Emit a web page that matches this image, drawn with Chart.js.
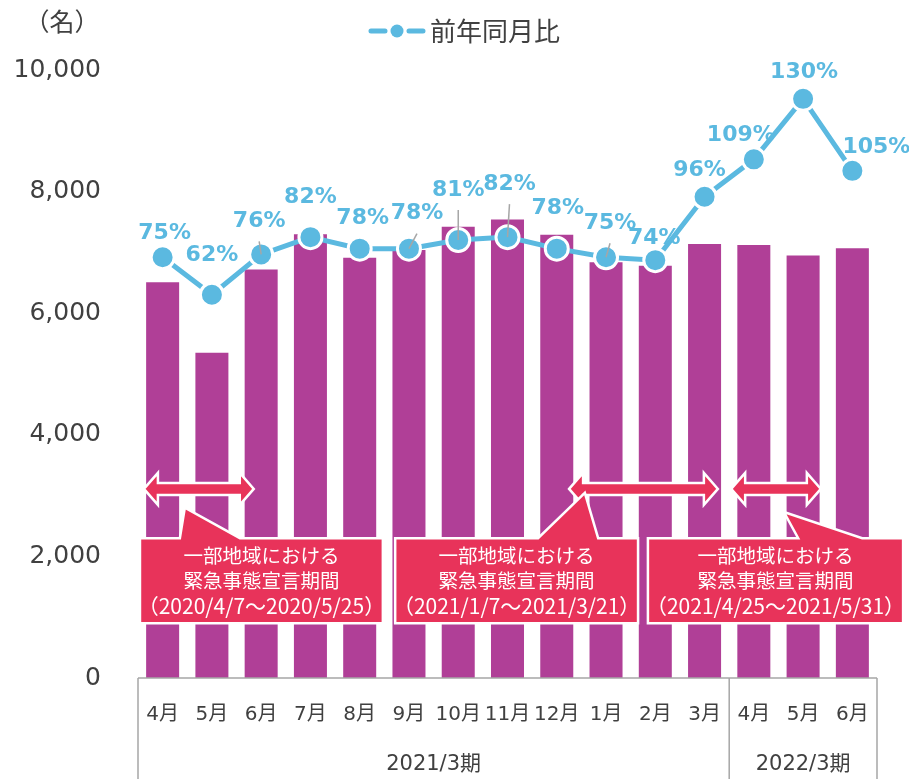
<!DOCTYPE html>
<html lang="ja">
<head>
<meta charset="utf-8">
<title>前年同月比</title>
<script src="https://cdn.jsdelivr.net/npm/chart.js@4.4.1/dist/chart.umd.min.js"></script>
<style>
  html, body { margin: 0; padding: 0; background: #fff; }
  #wrap { width: 909px; height: 779px; }
</style>
</head>
<body>
<div id="wrap"><canvas id="myChartCanvas1" width="909" height="779"></canvas></div>
<script>
// dados
const months = ['4月', '5月', '6月', '7月', '8月', '9月', '10月', '11月', '12月', '1月', '2月', '3月', '4月', '5月', '6月'];
const headcount = [6510, 5350, 6720, 7300, 6910, 7040, 7420, 7540, 7290, 6840, 6780, 7140, 7120, 6950, 7070];
const yoyRatio = [75, 62, 76, 82, 78, 78, 81, 82, 78, 75, 74, 96, 109, 130, 105];
const periodLabels = ['2021/3期', '2022/3期'];
const periodLengths = [12, 3];
const emergencyTexts = [
    ['一部地域における', '緊急事態宣言期間', '（2020/4/7～2020/5/25）'],
    ['一部地域における', '緊急事態宣言期間', '（2021/1/7～2021/3/21）'],
    ['一部地域における', '緊急事態宣言期間', '（2021/4/25～2021/5/31）']
];

const BLUE = '#5BB9E0';
const RED = '#E8335A';
const PURPLE = '#B03F97';
const TEXT = '#404040';
const CJK = '"Noto Sans CJK JP", sans-serif';
const LATIN = '"DejaVu Sans", "Noto Sans CJK JP", sans-serif';

// posição dos rótulos de % (deslocamento em px a partir do marcador) e linhas de chamada
const labelNudges = [[2, -24], [0, -39], [-2, -33], [0, -40], [3, -30], [8, -35], [0, -50], [2, -53],
    [1, -40], [4, -34], [-1, -22], [-5, -27], [-13, -24], [1, -27], [24, -24]];
const leaderLines = [2, 5, 6, 7, 9];

// anotações em unidades do gráfico (índice de categoria, valor do eixo y)
const arrows = [
    { from: -0.38, to: 1.85, y: 3110 },
    { from: 8.25, to: 11.27, y: 3110 },
    { from: 11.54, to: 13.36, y: 3110 }
];
const callouts = [
    { from: -0.46, to: 4.47, top: 2300, bottom: 900, base: [0.35, 1.57], tip: [0.45, 2800] },
    { from: 4.72, to: 9.65, top: 2300, bottom: 900, base: [7.62, 8.84], tip: [8.57, 3045] },
    { from: 9.85, to: 15.03, top: 2300, bottom: 900, base: [12.9, 14.2], tip: [12.61, 2730] }
];

function idxToX(x, idx) {
    const step = x.getPixelForValue(1) - x.getPixelForValue(0);
    return x.getPixelForValue(0) + idx * step;
}

function drawArrow(ctx, x1, x2, yc) {
    const sh = 6, hh = 16, hl = 14;
    ctx.beginPath();
    ctx.moveTo(x1, yc);
    ctx.lineTo(x1 + hl, yc - hh);
    ctx.lineTo(x1 + hl, yc - sh);
    ctx.lineTo(x2 - hl, yc - sh);
    ctx.lineTo(x2 - hl, yc - hh);
    ctx.lineTo(x2, yc);
    ctx.lineTo(x2 - hl, yc + hh);
    ctx.lineTo(x2 - hl, yc + sh);
    ctx.lineTo(x1 + hl, yc + sh);
    ctx.lineTo(x1 + hl, yc + hh);
    ctx.closePath();
    ctx.fillStyle = RED;
    ctx.fill();
    ctx.strokeStyle = '#fff';
    ctx.lineWidth = 2.5;
    ctx.stroke();
}

function drawCallout(ctx, c, lines, x, y) {
    const l = idxToX(x, c.from), r = idxToX(x, c.to);
    const t = y.getPixelForValue(c.top), b = y.getPixelForValue(c.bottom);
    const b1 = idxToX(x, c.base[0]), b2 = idxToX(x, c.base[1]);
    const ax = idxToX(x, c.tip[0]), ay = y.getPixelForValue(c.tip[1]);
    ctx.beginPath();
    ctx.moveTo(l, t);
    ctx.lineTo(b1, t);
    ctx.lineTo(ax, ay);
    ctx.lineTo(b2, t);
    ctx.lineTo(r, t);
    ctx.lineTo(r, b);
    ctx.lineTo(l, b);
    ctx.closePath();
    ctx.fillStyle = RED;
    ctx.fill();
    ctx.strokeStyle = '#fff';
    ctx.lineWidth = 2.5;
    ctx.stroke();

    ctx.fillStyle = '#fff';
    ctx.textAlign = 'center';
    ctx.textBaseline = 'middle';
    lines.forEach((txt, i) => {
        // a linha das datas é um pouco maior no original
        ctx.font = (i === 2 ? '21px ' : '19.5px ') + CJK;
        ctx.fillText(txt, (l + r) / 2, t + 17 + i * 25.5);
    });
}

const extras = {
    id: 'extras',
    afterDatasetsDraw(chart) {
        const { ctx, scales } = chart;
        const x = scales.x, y = scales.y;
        ctx.save();

        // setas e balões de estado de emergência
        arrows.forEach(a => drawArrow(ctx, idxToX(x, a.from), idxToX(x, a.to), y.getPixelForValue(a.y)));
        callouts.forEach((c, i) => drawCallout(ctx, c, emergencyTexts[i], x, y));

        // rótulos de porcentagem
        const meta = chart.getDatasetMeta(0);
        ctx.font = 'bold 22px ' + LATIN;
        ctx.textAlign = 'center';
        ctx.textBaseline = 'middle';
        meta.data.forEach((pt, i) => {
            const lx = pt.x + labelNudges[i][0];
            const ly = pt.y + labelNudges[i][1];
            if (leaderLines.includes(i)) {
                ctx.strokeStyle = '#A6A6A6';
                ctx.lineWidth = 1.5;
                ctx.beginPath();
                ctx.moveTo(lx, ly + 20);
                ctx.lineTo(pt.x, pt.y);
                ctx.stroke();
            }
            ctx.fillStyle = BLUE;
            ctx.fillText(yoyRatio[i] + '%', lx, ly);
        });
        ctx.restore();
    },
    afterDraw(chart) {
        const { ctx, chartArea, scales } = chart;
        const x = scales.x;
        ctx.save();

        // caixa das categorias (meses / períodos)
        ctx.strokeStyle = '#A6A6A6';
        ctx.lineWidth = 1.5;
        ctx.beginPath();
        ctx.moveTo(chartArea.left, chartArea.bottom);
        ctx.lineTo(chartArea.right, chartArea.bottom);
        const edges = [chartArea.left];
        let acc = 0;
        periodLengths.forEach(n => { acc += n; edges.push(idxToX(x, acc - 0.5)); });
        edges.forEach(e => { ctx.moveTo(e, chartArea.bottom); ctx.lineTo(e, chart.height); });
        ctx.stroke();

        ctx.fillStyle = TEXT;
        ctx.font = '21px ' + LATIN;
        ctx.textAlign = 'center';
        ctx.textBaseline = 'middle';
        periodLabels.forEach((lbl, i) => ctx.fillText(lbl, (edges[i] + edges[i + 1]) / 2, 765));

        // unidade do eixo
        ctx.font = '25px ' + CJK;
        ctx.fillText('（名）', 62, 21);

        // legenda
        const ly = 31;
        ctx.strokeStyle = BLUE;
        ctx.lineWidth = 5;
        ctx.lineCap = 'round';
        ctx.beginPath();
        ctx.moveTo(371, ly); ctx.lineTo(385, ly);
        ctx.moveTo(409, ly); ctx.lineTo(423, ly);
        ctx.stroke();
        ctx.fillStyle = BLUE;
        ctx.beginPath();
        ctx.arc(397, ly, 6.5, 0, Math.PI * 2);
        ctx.fill();
        ctx.fillStyle = TEXT;
        ctx.textAlign = 'left';
        ctx.font = '26px ' + CJK;
        ctx.fillText(chart.data.datasets[0].label, 430, ly);
        ctx.restore();
    }
};

const config = {
    type: 'bar',
    data: {
        labels: months,
        datasets: [{
            type: 'line',
            label: '前年同月比',
            data: yoyRatio,
            yAxisID: 'y2',
            borderColor: BLUE,
            borderWidth: 5,
            pointRadius: 11.5,
            pointBackgroundColor: BLUE,
            pointBorderColor: '#fff',
            pointBorderWidth: 3,
            tension: 0
        }, {
            type: 'bar',
            label: '人数',
            data: headcount,
            yAxisID: 'y',
            backgroundColor: PURPLE,
            barPercentage: 1,
            categoryPercentage: 0.67
        }]
    },
    options: {
        responsive: false,
        animation: false,
        layout: { padding: { top: 70, right: 32, left: 0, bottom: 0 } },
        scales: {
            x: {
                grid: { display: false, drawTicks: false },
                border: { display: false },
                ticks: {
                    color: TEXT,
                    padding: 25,
                    maxRotation: 0,
                    autoSkip: false,
                    font: { family: LATIN, size: 20 }
                },
                afterFit: scale => { scale.height = 101; }
            },
            y: {
                min: 0,
                max: 10000,
                grid: { display: false, drawTicks: false },
                border: { display: false },
                ticks: {
                    stepSize: 2000,
                    color: TEXT,
                    padding: 37,
                    font: { family: LATIN, size: 25 },
                    callback: v => v.toLocaleString('en-US')
                },
                afterFit: scale => { scale.width = 138; }
            },
            y2: {
                display: false,
                min: -71,
                max: 140
            }
        },
        plugins: {
            legend: { display: false },
            tooltip: { enabled: false }
        }
    },
    plugins: [extras]
};

new Chart(document.getElementById('myChartCanvas1'), config);
</script>
</body>
</html>
